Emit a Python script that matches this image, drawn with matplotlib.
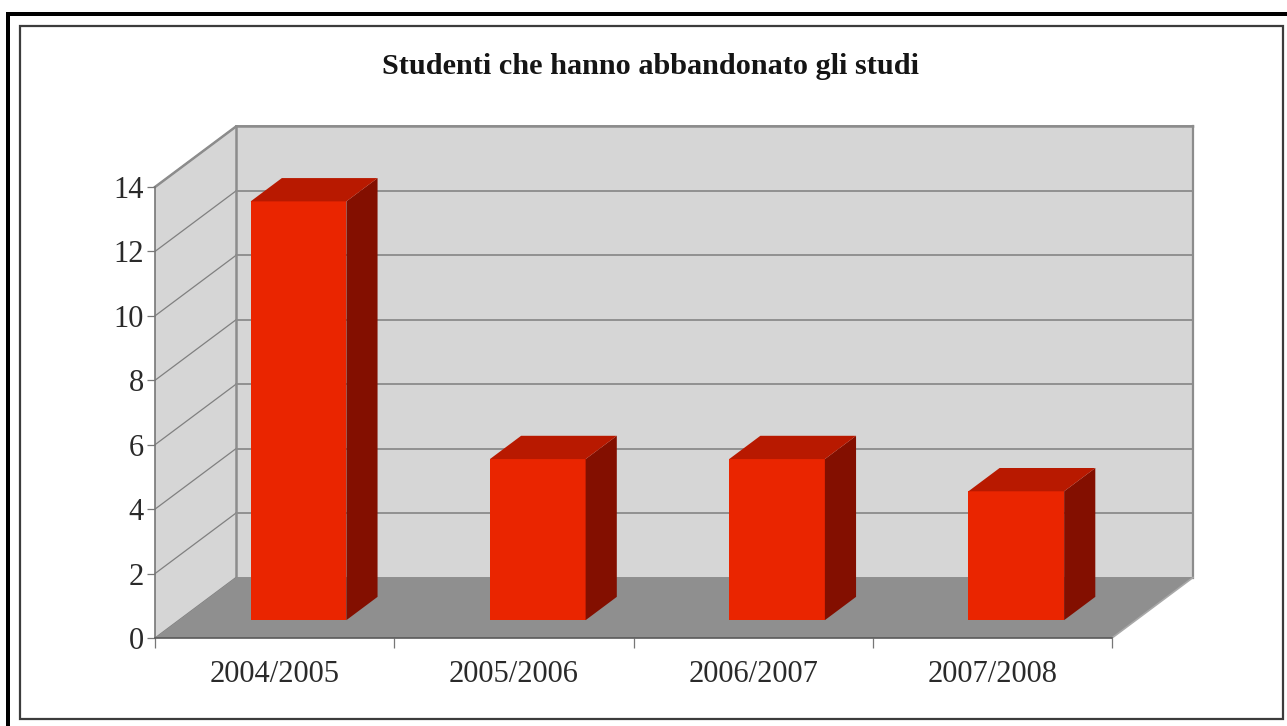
import matplotlib
matplotlib.use('Agg')
import matplotlib.pyplot as plt
from matplotlib.patches import Polygon, Rectangle

# Dati del grafico
titolo = 'Studenti che hanno abbandonato gli studi'
anni = ['2004/2005', '2005/2006', '2006/2007', '2007/2008']
studenti = [13, 5, 5, 4]
tacche_y = [0, 2, 4, 6, 8, 10, 12, 14]

W, H = 1287, 726
plt.rcParams['font.family'] = ['Liberation Serif', 'DejaVu Serif']

fig = plt.figure(figsize=(W / 100, H / 100), dpi=100, facecolor='white')

# Riquadri esterni in pixel: quello nero solo in alto e a sinistra
bg = fig.add_axes([0, 0, 1, 1])
bg.set_xlim(0, W)
bg.set_ylim(H, 0)
bg.axis('off')
bg.add_patch(Rectangle((6, 12), 4, H, fc='black', ec='none'))
bg.add_patch(Rectangle((6, 12), W, 4, fc='black', ec='none'))
bg.add_patch(Rectangle((20, 26), 1263, 692.5, fc='none', ec='#3c3c3c', lw=1.6))

# Piano frontale: gli assi veri sono qui
x0, x1, y0, y14 = 155, 1112, 638, 187
ax = fig.add_axes([x0 / W, 1 - y0 / H, (x1 - x0) / W, (y0 - y14) / H])
ax.set_xlim(0, len(anni))
ax.set_ylim(0, 14)
ax.patch.set_alpha(0)
ax.set_zorder(2)

# Proiezione obliqua: profondita' 0-1 in unita' dati
dx = 81 / ((x1 - x0) / len(anni))
dy = 60.5 / ((y0 - y14) / 14)


def proj(x, y, d=0.0):
    return (x + d * dx, y + d * dy)


def poli(punti, **kw):
    ax.add_patch(Polygon([proj(*p) for p in punti], closed=True, clip_on=False, **kw))


n = len(anni)
grigio = '#8c8c8c'
# pareti e pavimento
poli([(0, 0, 1), (n, 0, 1), (n, 14, 1), (0, 14, 1)], fc='#d6d6d6', ec='none', zorder=1)
poli([(0, 0, 0), (0, 0, 1), (0, 14, 1), (0, 14, 0)], fc='#d6d6d6', ec='none', zorder=1)
poli([(0, 0, 0), (n, 0, 0), (n, 0, 1), (0, 0, 1)], fc='#8f8f8f', ec='none', zorder=1.5)

# griglia
for v in tacche_y:
    xs, ys = zip(proj(0, v, 0), proj(0, v, 1))
    ax.plot(xs, ys, color='#808080', lw=0.9, clip_on=False, zorder=1.2)
    xs, ys = zip(proj(0, v, 1), proj(n, v, 1))
    ax.plot(xs, ys, color='#858585', lw=1.2, clip_on=False, zorder=1.2)
# spigoli
xs, ys = zip(proj(0, 0, 1), proj(0, 14, 1))
ax.plot(xs, ys, color=grigio, lw=1.8, clip_on=False, zorder=1.3)
xs, ys = zip(proj(n, 0, 1), proj(n, 14, 1))
ax.plot(xs, ys, color=grigio, lw=1.6, clip_on=False, zorder=1.3)
xs, ys = zip(proj(0, 14, 0), proj(0, 14, 1), proj(n, 14, 1))
ax.plot(xs, ys, color=grigio, lw=1.8, clip_on=False, zorder=1.3)
xs, ys = zip(proj(n, 0, 0), proj(n, 0, 1))
ax.plot(xs, ys, color='#a8a8a8', lw=1.2, clip_on=False, zorder=1.6)

# barre 3D
larg = 0.4
d0, d1 = 0.295, 0.68
for i, v in enumerate(studenti):
    a, b = i + 0.5 - larg / 2, i + 0.5 + larg / 2
    poli([(a, 0, d0), (b, 0, d0), (b, v, d0), (a, v, d0)], fc='#ea2500', ec='none', zorder=3)
    poli([(b, 0, d0), (b, 0, d1), (b, v, d1), (b, v, d0)], fc='#830f00', ec='none', zorder=3)
    poli([(a, v, d0), (b, v, d0), (b, v, d1), (a, v, d1)], fc='#b81900', ec='none', zorder=3)

# assi
for lato in ['top', 'right']:
    ax.spines[lato].set_visible(False)
for lato in ['left', 'bottom']:
    ax.spines[lato].set_linewidth(1.2)
ax.spines['bottom'].set_color('#5a5a5a')
ax.spines['left'].set_color('#777777')
ax.set_yticks(tacche_y)
ax.set_xticks(range(n + 1))
ax.set_xticklabels([])
ax.set_xticks([i + 0.5 for i in range(n)], labels=anni, minor=True)
ax.tick_params(axis='x', which='major', length=7, width=0.9, color='#777777')
ax.tick_params(axis='x', which='minor', length=0, pad=16, labelsize=22, labelcolor='#2a2a2a')
ax.tick_params(axis='y', length=6, width=0.9, color='#777777', pad=2, labelsize=22, labelcolor='#2a2a2a')

bg.text(650.5, 66, titolo, ha='center', va='center', fontsize=21.8, fontweight='bold', color='#151515')

fig.savefig('out.png', dpi=100)
